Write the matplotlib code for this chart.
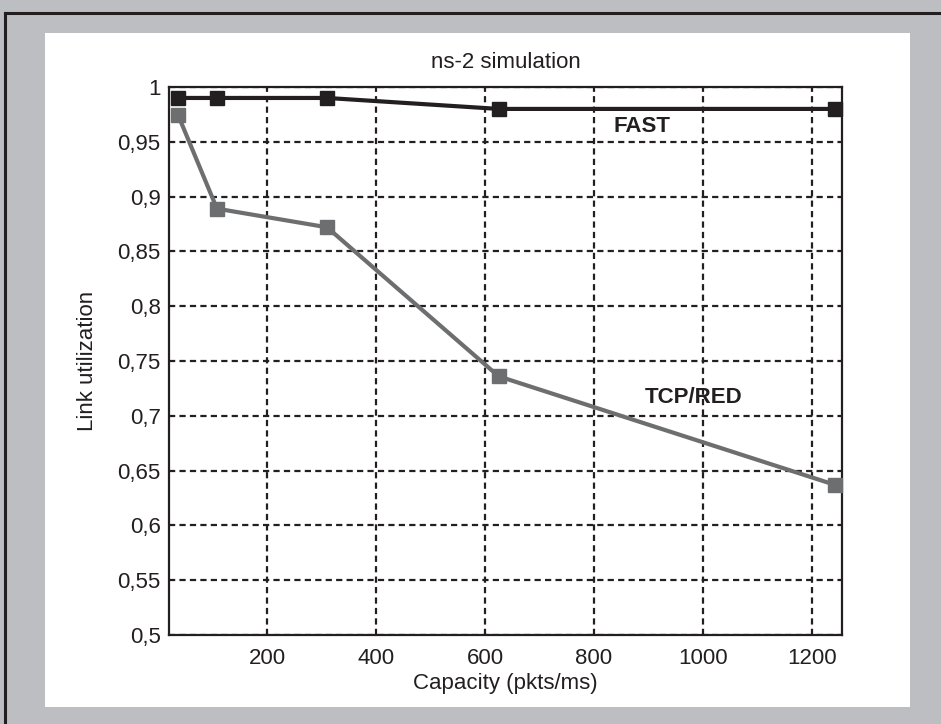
import numpy as np
import matplotlib.pyplot as plt
from matplotlib.patches import Rectangle
from matplotlib.lines import Line2D

plt.rcParams['font.family'] = ['Liberation Sans', 'DejaVu Sans']

## Data ###############################################################
capacity = [37, 108, 310, 625, 1242]          # pkts/ms
fastUtil = [0.990, 0.990, 0.990, 0.980, 0.980]
redUtil  = [0.974, 0.889, 0.872, 0.736, 0.637]
xTicks   = [200, 400, 600, 800, 1000, 1200]
yTicks   = [0.5, 0.55, 0.6, 0.65, 0.7, 0.75, 0.8, 0.85, 0.9, 0.95, 1.0]
yLabels  = ['0,5', '0,55', '0,6', '0,65', '0,7', '0,75', '0,8', '0,85', '0,9', '0,95', '1']
## ####################################################################

ink  = '#231f20'
grey = '#6d6e70'
W, H = 941, 724
fs = 16

fig = plt.figure(figsize=(W/100, H/100), dpi=100)
fig.patch.set_facecolor('#bdbec2')
# white panel and frame (behind the axes)
fig.patches.append(Rectangle((45/W, 1-707/H), (910-45)/W, (707-33)/H,
                             transform=fig.transFigure, facecolor='white',
                             edgecolor='none', zorder=-5))
fig.lines.append(Line2D([4.5/W, 4.5/W], [0, 1-13/H], transform=fig.transFigure,
                        color=ink, lw=2.2, zorder=-4))
fig.lines.append(Line2D([4.5/W, 1], [1-13/H, 1-13/H], transform=fig.transFigure,
                        color=ink, lw=2.2, zorder=-4))

ax = fig.add_axes([169/W, 1-635/H, (842-169)/W, (635-87)/H])
ax.set_zorder(1)
ax.plot(capacity, redUtil, '-s', color=grey, lw=3, ms=10, mec=grey, clip_on=False, zorder=3)
ax.plot(capacity, fastUtil, '-s', color=ink, lw=3, ms=10, mec=ink, clip_on=False, zorder=4)

ax.set_xlim(20, 1255)
ax.set_ylim(0.5, 1.0)
ax.set_xticks(xTicks)
ax.set_yticks(yTicks)
ax.set_yticklabels(yLabels)
ax.tick_params(length=0, labelsize=fs, colors=ink)
ax.tick_params(axis='x', pad=9)
ax.tick_params(axis='y', pad=6)
ax.grid(True, color=ink, lw=1.6, linestyle=(0, (2.8, 1.9)))
for s in ax.spines.values():
    s.set_linewidth(1.6)
    s.set_color(ink)

ax.set_title('ns-2 simulation', fontsize=fs, color=ink, pad=14)
ax.set_xlabel('Capacity (pkts/ms)', fontsize=fs, color=ink, labelpad=3)
ax.set_ylabel('Link utilization', fontsize=fs, color=ink, labelpad=14)

ax.text(888, 0.964, 'FAST', fontsize=fs, fontweight='bold', color=ink,
        ha='center', va='center')
ax.text(982, 0.717, 'TCP/RED', fontsize=fs, fontweight='bold', color=ink,
        ha='center', va='center')

plt.savefig('out.png', dpi=100, facecolor=fig.get_facecolor())
